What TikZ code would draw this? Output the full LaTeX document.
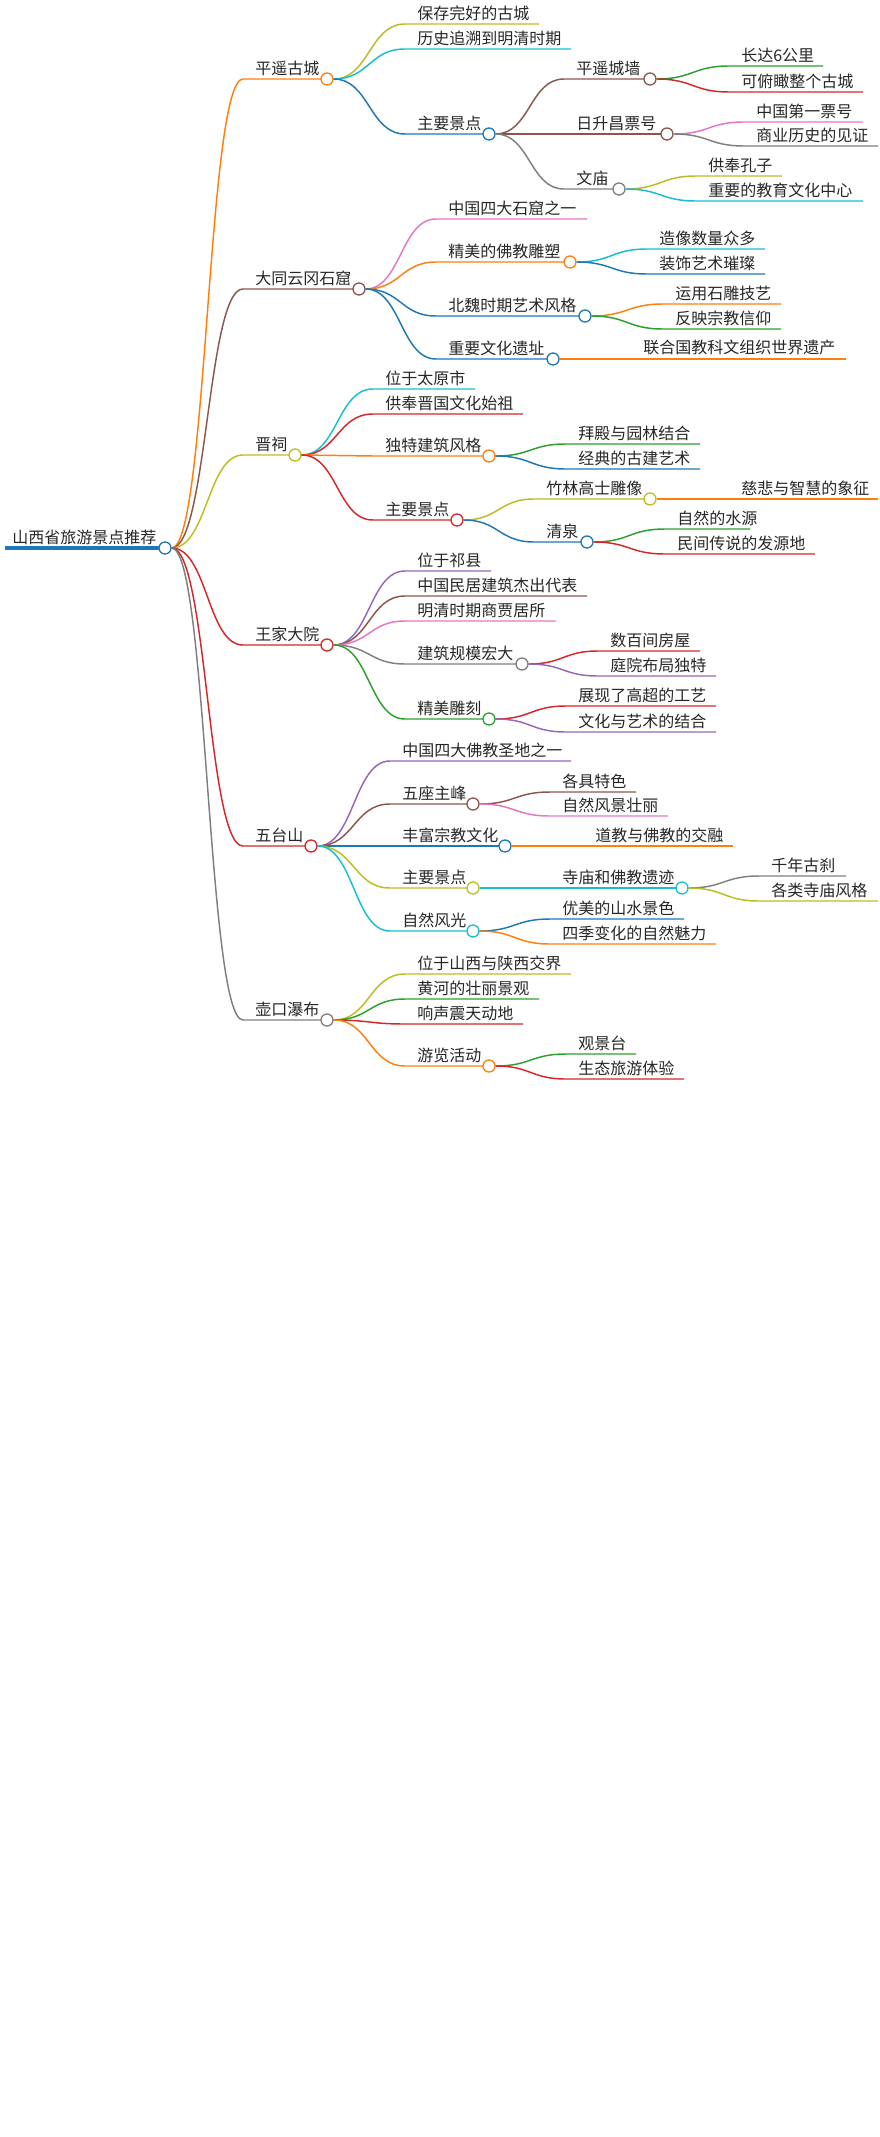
\documentclass[tikz,border=0pt]{standalone}
\usepackage{fontspec}
\newfontfamily\cjk{Noto Sans CJK SC}
\usetikzlibrary{calc}
\definecolor{cOrange}{HTML}{FF7F0E}
\definecolor{cBrown}{HTML}{8C564B}
\definecolor{cOlive}{HTML}{BCBD22}
\definecolor{cRed}{HTML}{D62728}
\definecolor{cGray}{HTML}{7F7F7F}
\definecolor{cCyan}{HTML}{17BECF}
\definecolor{cBlue}{HTML}{1F77B4}
\definecolor{cGreen}{HTML}{2CA02C}
\definecolor{cPink}{HTML}{E377C2}
\definecolor{cPurple}{HTML}{9467BD}
\tikzset{
  lbl/.style={anchor=south west, inner sep=0pt, yshift=2.5pt,
    font=\cjk\fontsize{12}{13}\selectfont, text=black!85},
  edge/.style={line width=1.1pt},
  dot/.style={circle, draw=#1, fill=white, line width=1pt,
    minimum size=9pt, inner sep=0pt}
}
% #1 parent, #2 name, #3 start x, #4 y, #5 end x, #6 colour, #7 text
\newcommand\link[7]{%
  \coordinate (#2s) at (#3,#4);
  \node[lbl] (#2t) at ($(#2s)+(12,0)$) {#7};
  \draw[#6, edge] let \p1=(#1.east), \p2=(#2s) in
    (\p1) .. controls ({(\x1+\x2)/2},\y1) and ({(\x1+\x2)/2},\y2) .. (\p2) -- (#2);
}
\newcommand\leaf[7]{\coordinate (#2) at (#5,#4); \link{#1}{#2}{#3}{#4}{#5}{#6}{#7}}
\newcommand\branch[7]{\coordinate (#2) at (#5,#4); \link{#1}{#2}{#3}{#4}{#5}{#6}{#7}
  \node[dot=#6] (#2) at (#5,#4) {};}
\begin{document}
\begin{tikzpicture}[x=0.75pt, y=-0.75pt]
  \useasboundingbox (0,0) rectangle (880,2137);
  % root
  \coordinate (roots) at (5,548);
  \node[lbl] at (12,548) {山西省旅游景点推荐};
  \draw[cBlue, line width=3pt] (roots) -- (165,548);
  \node[dot=cBlue] (root) at (165,548) {};
  % 平遥古城
  \branch{root}{py}{243}{79}{327}{cOrange}{平遥古城}
  \leaf{py}{py1}{405}{24}{539}{cOlive}{保存完好的古城}
  \leaf{py}{py2}{405}{49}{571}{cCyan}{历史追溯到明清时期}
  \branch{py}{pyj}{405}{134}{489}{cBlue}{主要景点}
  \branch{pyj}{pyw}{564}{79}{650}{cBrown}{平遥城墙}
  \leaf{pyw}{pyw1}{729}{66}{823}{cGreen}{长达6公里}
  \leaf{pyw}{pyw2}{729}{92}{863}{cRed}{可俯瞰整个古城}
  \branch{pyj}{rsc}{564}{134}{667}{cBrown}{日升昌票号}
  \leaf{rsc}{rsc1}{744}{122}{863}{cPink}{中国第一票号}
  \leaf{rsc}{rsc2}{744}{146}{878}{cGray}{商业历史的见证}
  \branch{pyj}{wm}{564}{189}{619}{cGray}{文庙}
  \leaf{wm}{wm1}{696}{176}{782}{cOlive}{供奉孔子}
  \leaf{wm}{wm2}{696}{201}{863}{cCyan}{重要的教育文化中心}
  % 大同云冈石窟
  \branch{root}{yg}{243}{289}{359}{cBrown}{大同云冈石窟}
  \leaf{yg}{yg1}{436}{219}{587}{cPink}{中国四大石窟之一}
  \branch{yg}{ygd}{436}{262}{570}{cOrange}{精美的佛教雕塑}
  \leaf{ygd}{ygd1}{647}{249}{765}{cCyan}{造像数量众多}
  \leaf{ygd}{ygd2}{647}{274}{765}{cBlue}{装饰艺术璀璨}
  \branch{yg}{ygb}{436}{316}{585}{cBlue}{北魏时期艺术风格}
  \leaf{ygb}{ygb1}{663}{304}{781}{cOrange}{运用石雕技艺}
  \leaf{ygb}{ygb2}{663}{329}{781}{cGreen}{反映宗教信仰}
  \branch{yg}{ygy}{436}{359}{553}{cBlue}{重要文化遗址}
  \leaf{ygy}{ygy1}{631}{359}{846}{cOrange}{联合国教科文组织世界遗产}
  % 晋祠
  \branch{root}{jc}{243}{455}{295}{cOlive}{晋祠}
  \leaf{jc}{jc1}{373}{389}{475}{cCyan}{位于太原市}
  \leaf{jc}{jc2}{373}{414}{523}{cRed}{供奉晋国文化始祖}
  \branch{jc}{jcf}{373}{456}{489}{cOrange}{独特建筑风格}
  \leaf{jcf}{jcf1}{566}{444}{700}{cGreen}{拜殿与园林结合}
  \leaf{jcf}{jcf2}{566}{469}{700}{cBlue}{经典的古建艺术}
  \branch{jc}{jcj}{373}{520}{457}{cRed}{主要景点}
  \branch{jcj}{zl}{534}{499}{650}{cOlive}{竹林高士雕像}
  \leaf{zl}{zl1}{729}{499}{878}{cOrange}{慈悲与智慧的象征}
  \branch{jcj}{qq}{534}{542}{587}{cBlue}{清泉}
  \leaf{qq}{qq1}{665}{529}{750}{cGreen}{自然的水源}
  \leaf{qq}{qq2}{665}{554}{815}{cRed}{民间传说的发源地}
  % 王家大院
  \branch{root}{wj}{243}{645}{327}{cRed}{王家大院}
  \leaf{wj}{wj1}{405}{571}{491}{cPurple}{位于祁县}
  \leaf{wj}{wj2}{405}{596}{587}{cBrown}{中国民居建筑杰出代表}
  \leaf{wj}{wj3}{405}{621}{556}{cPink}{明清时期商贾居所}
  \branch{wj}{wjg}{405}{664}{522}{cGray}{建筑规模宏大}
  \leaf{wjg}{wjg1}{598}{651}{700}{cRed}{数百间房屋}
  \leaf{wjg}{wjg2}{598}{676}{716}{cPurple}{庭院布局独特}
  \branch{wj}{wjd}{405}{719}{489}{cGreen}{精美雕刻}
  \leaf{wjd}{wjd1}{566}{706}{716}{cRed}{展现了高超的工艺}
  \leaf{wjd}{wjd2}{566}{732}{716}{cPurple}{文化与艺术的结合}
  % 五台山
  \branch{root}{wt}{243}{846}{311}{cRed}{五台山}
  \leaf{wt}{wt1}{390}{761}{571}{cPurple}{中国四大佛教圣地之一}
  \branch{wt}{wtf}{390}{804}{473}{cBrown}{五座主峰}
  \leaf{wtf}{wtf1}{550}{792}{636}{cBrown}{各具特色}
  \leaf{wtf}{wtf2}{550}{816}{668}{cPink}{自然风景壮丽}
  \branch{wt}{wtz}{390}{846}{505}{cBlue}{丰富宗教文化}
  \leaf{wtz}{wtz1}{583}{846}{733}{cOrange}{道教与佛教的交融}
  \branch{wt}{wtj}{390}{888}{473}{cOlive}{主要景点}
  \branch{wtj}{sm}{550}{888}{682}{cCyan}{寺庙和佛教遗迹}
  \leaf{sm}{sm1}{759}{876}{846}{cGray}{千年古刹}
  \leaf{sm}{sm2}{759}{901}{878}{cOlive}{各类寺庙风格}
  \branch{wt}{wtr}{390}{931}{473}{cCyan}{自然风光}
  \leaf{wtr}{wtr1}{550}{919}{684}{cBlue}{优美的山水景色}
  \leaf{wtr}{wtr2}{550}{944}{716}{cOrange}{四季变化的自然魅力}
  % 壶口瀑布
  \branch{root}{hk}{243}{1020}{327}{cGray}{壶口瀑布}
  \leaf{hk}{hk1}{405}{974}{571}{cOlive}{位于山西与陕西交界}
  \leaf{hk}{hk2}{405}{999}{539}{cGreen}{黄河的壮丽景观}
  \leaf{hk}{hk3}{405}{1024}{523}{cRed}{响声震天动地}
  \branch{hk}{hky}{405}{1066}{489}{cOrange}{游览活动}
  \leaf{hky}{hky1}{566}{1054}{636}{cGreen}{观景台}
  \leaf{hky}{hky2}{566}{1079}{684}{cRed}{生态旅游体验}
\end{tikzpicture}
\end{document}
